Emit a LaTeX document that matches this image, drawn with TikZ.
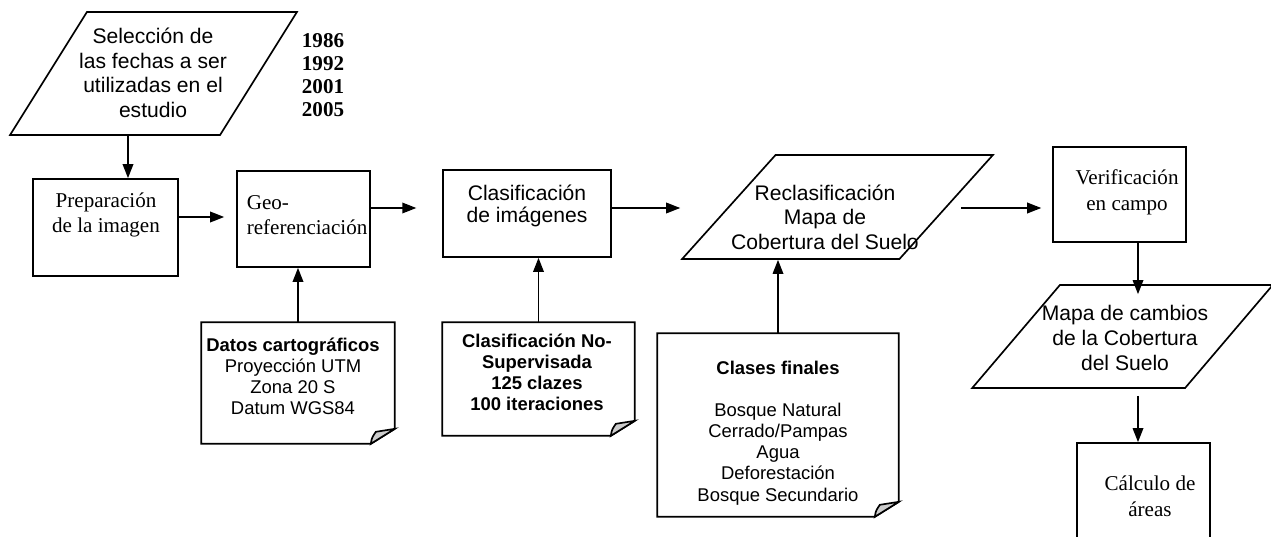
\documentclass[tikz,border=0pt]{standalone}
\usepackage{fontspec}
\setmainfont{Liberation Serif}
\setsansfont{Liberation Sans}
\usetikzlibrary{shapes.geometric,arrows.meta}

\tikzset{
  proc/.style={draw, rectangle},
  iobox/.style={draw, trapezium, trapezium stretches=true},
  card/.style={rectangle, inner sep=0pt},
  rmtext/.style={font=\fontsize{12}{14.5}\selectfont, align=center, inner sep=0pt},
  sftext/.style={font=\sffamily\fontsize{12}{14}\selectfont, align=center, inner sep=0pt},
  cardtext/.style={font=\sffamily\fontsize{10.5}{12}\selectfont, align=center, inner sep=0pt}
}

\begin{document}
\begin{tikzpicture}[x=0.02cm,y=-0.02cm,line width=0.95pt,>={Triangle[length=8pt,width=6pt]}]
\clip (0,0) rectangle (1271,537);

% entradas / salidas
\node[iobox, minimum width=5.74cm, minimum height=2.46cm, trapezium left angle=60, trapezium right angle=120] (sel) at (153.5,73.5) {};
\node[iobox, minimum width=6.22cm, minimum height=2.08cm, trapezium left angle=53, trapezium right angle=127] (recl) at (837.5,207) {};
\node[iobox, minimum width=6.02cm, minimum height=2.06cm, trapezium left angle=55, trapezium right angle=125] (mapa) at (1122.5,336.5) {};

% procesos
\node[proc, minimum width=2.9cm, minimum height=1.94cm] (prep) at (105.5,227.5) {};
\node[proc, minimum width=2.66cm, minimum height=1.92cm] (geo) at (303.5,219) {};
\node[proc, minimum width=3.36cm, minimum height=1.74cm] (clas) at (527,213.5) {};
\node[proc, minimum width=2.66cm, minimum height=1.9cm] (verif) at (1119.5,194.5) {};
\node[proc, minimum width=2.66cm, minimum height=2cm] (calc) at (1143.5,493) {};

% documentos
\node[card, minimum width=3.84cm, minimum height=2.4cm] (datos) at (298,383) {};
\node[card, minimum width=3.82cm, minimum height=2.24cm] (nosup) at (538.5,379) {};
\node[card, minimum width=4.8cm, minimum height=3.64cm] (clases) at (778,425) {};
\foreach \card in {datos,nosup,clases}{
  \draw (\card.north west) -- (\card.north east) -- ([shift={(0,-15)}]\card.south east)
    -- ([shift={(-24,0)}]\card.south east) -- (\card.south west) -- cycle;
  \draw[fill=gray!40] ([shift={(-24,0)}]\card.south east) .. controls +(1,-6) .. ++(5,-12)
    -- ([shift={(0,-15)}]\card.south east) -- cycle;
}

% textos
\node[sftext] (seltext) at (153,73) {Selección de\\las fechas a ser\\utilizadas en el\\estudio};
\node[rmtext, font=\bfseries\fontsize{12}{13}\selectfont] (years) at (323,75) {1986\\1992\\2001\\2005};
\node[rmtext] (preptext) at (106,215) {Preparación\\de la imagen};
\node[rmtext, align=left, anchor=west] (geotext) at (246,215) {Geo-\\referenciación};
\node[sftext, font=\sffamily\fontsize{12}{13}\selectfont] (clastext) at (527,206) {Clasificación\\de imágenes};
\node[sftext] (recltext) at (825,217) {Reclasificación\\Mapa de\\Cobertura del Suelo};
\node[rmtext] (veriftext) at (1127,192.5) {Verificación\\en campo};
\node[sftext] (mapatext) at (1125,338) {Mapa de cambios\\de la Cobertura\\del Suelo};
\node[rmtext] (calctext) at (1150,496.5) {Cálculo de\\áreas};
\node[cardtext] (datostext) at (293,376) {\textbf{Datos cartográficos}\\Proyección UTM\\Zona 20 S\\Datum WGS84};
\node[cardtext, font=\sffamily\bfseries\fontsize{10.5}{12}\selectfont] (nosuptext) at (537,372) {Clasificación No-\\Supervisada\\125 clazes\\100 iteraciones};
\node[cardtext] (clasestext) at (778,433) {\textbf{Clases finales}\\[12pt]Bosque Natural\\Cerrado/Pampas\\Agua\\Deforestación\\Bosque Secundario};

% flechas
\draw[->] (sel.south -| 128,0) -- (prep.north -| 128,0);
\draw[->, shorten >=6.8pt] (prep.east |- 0,217) -- (geo.west |- 0,217);
\draw[->, shorten >=14.7pt] (geo.east |- 0,208) -- (clas.west |- 0,208);
\draw[->] (clas.east |- 0,208) -- (recl.bottom left corner |- 0,208);
\draw[->, shorten <=8pt, shorten >=6.2pt] (recl.east |- 0,208) -- (verif.west |- 0,208);
\draw[->] (datos.north) -- (geo.south -| datos.north);
\draw[->] (nosup.north) -- (clas.south -| nosup.north);
\draw[->] (clases.north) -- (recl.south -| clases.north);
\draw[->, shorten >=-5.7pt] (verif.south -| 1138,0) -- (mapa.north -| 1138,0);
\draw[->, shorten <=4pt] (mapa.south -| 1138,0) -- (calc.north -| 1138,0);
\end{tikzpicture}
\end{document}
